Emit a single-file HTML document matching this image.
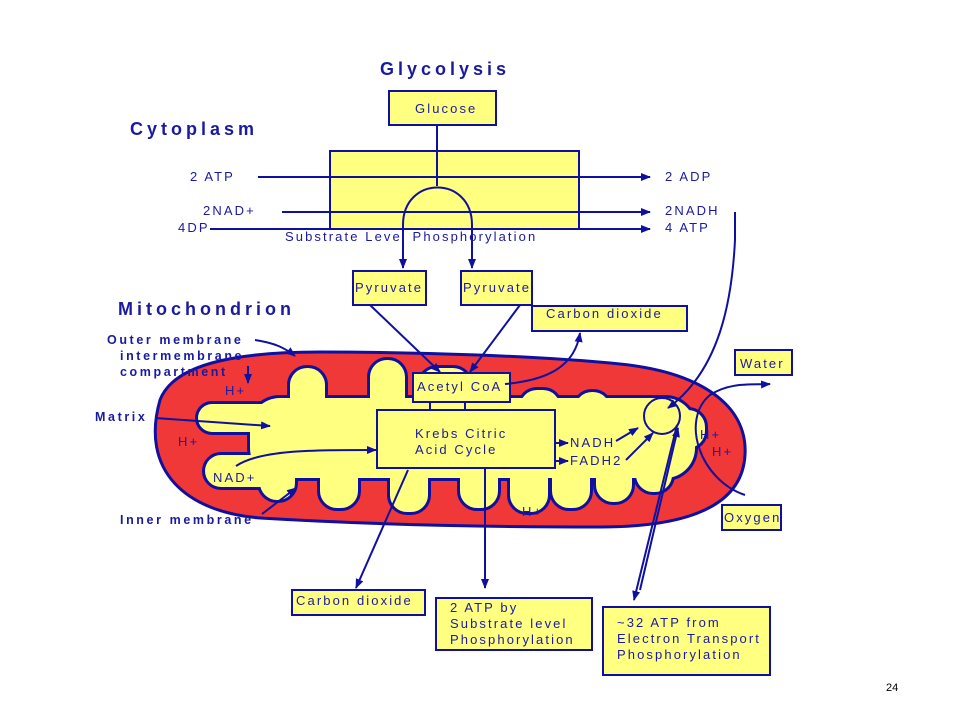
<!DOCTYPE html>
<html><head><meta charset="utf-8"><style>
html,body{margin:0;padding:0;background:#fff;}
svg{display:block;}
text{font-family:"Liberation Sans","DejaVu Sans",sans-serif;fill:#1a1aa0;}
.t{font-size:18px;font-weight:bold;letter-spacing:4px;}
.s{font-size:13px;letter-spacing:2.1px;}
.b{font-size:12.5px;font-weight:bold;letter-spacing:2.6px;}
</style></head><body>
<svg width="960" height="720" viewBox="0 0 960 720" xmlns="http://www.w3.org/2000/svg">
<defs>
<marker id="a" markerWidth="10" markerHeight="8" refX="9" refY="4" orient="auto" markerUnits="userSpaceOnUse"><path d="M0,0 L10,4 L0,8 Z" fill="#1010a0"/></marker>
</defs>
<g stroke="#1010a0" stroke-width="2" fill="none">
<rect x="389" y="91" width="107" height="34" fill="#ffff80"/>
<rect x="330" y="151" width="249" height="78" fill="#ffff80"/>
<line x1="258" y1="177" x2="650" y2="177" marker-end="url(#a)"/>
<line x1="282" y1="212" x2="650" y2="212" marker-end="url(#a)"/>
<line x1="210" y1="229" x2="650" y2="229" marker-end="url(#a)"/>
<line x1="437" y1="125" x2="437" y2="186"/>
<path d="M403,268 L403,225 C403,175 472,175 472,225 L472,268" marker-end="url(#a)"/>
<line x1="403" y1="255" x2="403" y2="268" marker-end="url(#a)"/>
<rect x="353" y="271" width="73" height="34" fill="#ffff80"/>
<rect x="461" y="271" width="71" height="34" fill="#ffff80"/>
<rect x="532" y="306" width="155" height="25" fill="#ffff80"/>
<path d="M160,400 C175,360 250,352 320,352 C420,352 540,356 620,364 C700,372 748,405 745,455 C742,510 680,527 600,527 C480,527 360,524 260,518 C185,512 140,470 160,400 Z" fill="#f03838" stroke-width="3"/>
</g>
<g id="cr">
<rect x="250" y="398" width="445" height="80" rx="30"/>
<rect x="198" y="404" width="102" height="28" rx="14"/>
<rect x="205" y="455" width="85" height="32" rx="16"/>
<rect x="290" y="368" width="35" height="60" rx="17"/>
<rect x="370" y="360" width="35" height="60" rx="17"/>
<rect x="420" y="368" width="50" height="50" rx="17"/>
<rect x="520" y="390" width="40" height="40" rx="17"/>
<rect x="575" y="392" width="35" height="40" rx="17"/>
<rect x="615" y="410" width="90" height="38" rx="17"/>
<rect x="260" y="450" width="35" height="50" rx="17"/>
<rect x="320" y="450" width="38" height="58" rx="17"/>
<rect x="390" y="450" width="38" height="62" rx="17"/>
<rect x="460" y="450" width="38" height="58" rx="17"/>
<rect x="510" y="450" width="38" height="62" rx="17"/>
<rect x="552" y="450" width="38" height="58" rx="17"/>
<rect x="596" y="450" width="36" height="52" rx="17"/>
<rect x="636" y="440" width="36" height="52" rx="17"/>
</g>
<use href="#cr" fill="#1010a0" stroke="#1010a0" stroke-width="6"/>
<use href="#cr" fill="#ffff80" stroke="none"/>
<g stroke="#1010a0" stroke-width="2" fill="none">
<line x1="370" y1="305" x2="440" y2="372" marker-end="url(#a)"/>
<line x1="520" y1="305" x2="470" y2="372" marker-end="url(#a)"/>
<rect x="413" y="373" width="97" height="29" fill="#ffff80"/>
<path d="M505,384 C550,380 575,365 580,333" marker-end="url(#a)"/>
<line x1="430" y1="402" x2="430" y2="410"/><line x1="465" y1="402" x2="465" y2="410"/>
<rect x="377" y="410" width="178" height="58" fill="#ffff80"/>
<line x1="555" y1="443" x2="568" y2="443" marker-end="url(#a)"/>
<line x1="555" y1="461" x2="568" y2="461" marker-end="url(#a)"/>
<path d="M236,466 C260,450 310,450 376,450" marker-end="url(#a)"/>
<line x1="155" y1="418" x2="270" y2="426" marker-end="url(#a)"/>
<path d="M255,340 C275,343 285,348 295,356" marker-end="url(#a)"/>
<line x1="248" y1="366" x2="248" y2="383" marker-end="url(#a)"/>
<line x1="262" y1="514" x2="296" y2="488" marker-end="url(#a)"/>
<line x1="616" y1="441" x2="638" y2="428" marker-end="url(#a)"/>
<line x1="626" y1="460" x2="653" y2="433" marker-end="url(#a)"/>
<line x1="408" y1="470" x2="356" y2="588" marker-end="url(#a)"/>
<line x1="485" y1="468" x2="485" y2="588" marker-end="url(#a)"/>
<line x1="677" y1="425" x2="634" y2="600" marker-end="url(#a)"/>
<line x1="640" y1="590" x2="678" y2="428" marker-end="url(#a)"/>
<path d="M735,212 L735,240 C732,300 720,370 668,408" marker-end="url(#a)"/>
<circle cx="662" cy="416" r="18"/>
<path d="M745,495 C700,480 680,420 710,395 C730,382 750,385 770,384" marker-end="url(#a)"/>
<rect x="292" y="590" width="133" height="25" fill="#ffff80"/>
<rect x="436" y="598" width="156" height="52" fill="#ffff80"/>
<rect x="603" y="607" width="167" height="68" fill="#ffff80"/>
<rect x="735" y="350" width="57" height="25" fill="#ffff80"/>
<rect x="722" y="505" width="59" height="25" fill="#ffff80"/>
</g>
<text class="t" x="380" y="75">Glycolysis</text>
<text class="t" x="130" y="135">Cytoplasm</text>
<text class="t" x="118" y="315">Mitochondrion</text>
<g class="s">
<text x="415" y="113">Glucose</text>
<text x="190" y="181">2  ATP</text>
<text x="203" y="215">2NAD+</text>
<text x="178" y="232">4DP</text>
<text x="665" y="181">2 ADP</text>
<text x="665" y="215">2NADH</text>
<text x="665" y="232">4 ATP</text>
<text x="285" y="241">Substrate Level Phosphorylation</text>
<text x="355" y="292">Pyruvate</text>
<text x="463" y="292">Pyruvate</text>
<text x="546" y="318">Carbon dioxide</text>
<text x="417" y="391">Acetyl CoA</text>
<text x="415" y="438">Krebs Citric</text>
<text x="415" y="454">Acid Cycle</text>
<text x="570" y="447">NADH</text>
<text x="570" y="465">FADH2</text>
<text x="213" y="482">NAD+</text>
<text x="225" y="395">H+</text>
<text x="178" y="446">H+</text>
<text x="522" y="516">H+</text>
<text x="700" y="439">H+</text>
<text x="712" y="456">H+</text>
<text x="740" y="368">Water</text>
<text x="724" y="522">Oxygen</text>
<text x="296" y="605">Carbon dioxide</text>
<text x="450" y="612">2 ATP by</text>
<text x="450" y="628">Substrate level</text>
<text x="450" y="644">Phosphorylation</text>
<text x="617" y="627">~32 ATP from</text>
<text x="617" y="643">Electron Transport</text>
<text x="617" y="659">Phosphorylation</text>
</g>
<g class="b">
<text x="107" y="344">Outer membrane</text>
<text x="120" y="360">intermembrane</text>
<text x="120" y="376">compartment</text>
<text x="95" y="421">Matrix</text>
<text x="120" y="524">Inner membrane</text>
</g>
<text x="886" y="691" font-size="11" style="fill:#000">24</text>
</svg>
</body></html>
